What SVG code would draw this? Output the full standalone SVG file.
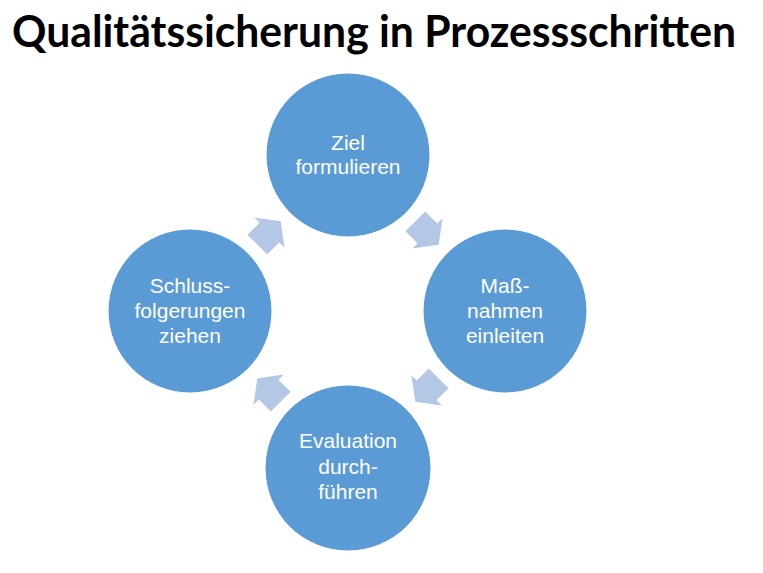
<svg xmlns="http://www.w3.org/2000/svg" width="763" height="573" viewBox="0 0 763 573">
<style>
.node{fill:#5b9bd5;stroke:#ffffff;stroke-width:1}
.lbl{font-family:"Liberation Sans",Arial,sans-serif;font-size:21px;fill:#ffffff;text-anchor:middle}
.arr{fill:#b4c8e6}
.title{font-family:Lato,"Open Sans","Liberation Sans",sans-serif;font-weight:bold;font-size:44px;fill:#000000}
</style>
<defs>
<polygon id="arrow" points="-16.5,-14 0.5,-14 0.5,-21.5 16.5,0 0.5,21.5 0.5,14 -16.5,14"/>
</defs>
<rect width="763" height="573" fill="#ffffff"/>
<text class="title" x="12" y="47" textLength="724" lengthAdjust="spacingAndGlyphs">Qualitätssicherung in Prozessschritten</text>
<g id="connectors">
<use href="#arrow" class="arr" transform="translate(427,233) rotate(45)"/>
<use href="#arrow" class="arr" transform="translate(427,390) rotate(135)"/>
<use href="#arrow" class="arr" transform="translate(269,390) rotate(225)"/>
<use href="#arrow" class="arr" transform="translate(269,233) rotate(315)"/>
</g>
<g id="ziel">
<circle class="node" cx="348" cy="155" r="82"/>
<text class="lbl" x="348" y="150">Ziel</text>
<text class="lbl" x="348" y="174">formulieren</text>
</g>
<g id="massnahmen">
<circle class="node" cx="505" cy="311" r="82"/>
<text class="lbl" x="505" y="293">Maß-</text>
<text class="lbl" x="505" y="318">nahmen</text>
<text class="lbl" x="505" y="343">einleiten</text>
</g>
<g id="evaluation">
<circle class="node" cx="348" cy="468" r="83"/>
<text class="lbl" x="348" y="448">Evaluation</text>
<text class="lbl" x="348" y="474">durch-</text>
<text class="lbl" x="348" y="499">führen</text>
</g>
<g id="schluss">
<circle class="node" cx="190" cy="311" r="82"/>
<text class="lbl" x="190" y="293">Schluss-</text>
<text class="lbl" x="190" y="318">folgerungen</text>
<text class="lbl" x="190" y="343">ziehen</text>
</g>
</svg>
